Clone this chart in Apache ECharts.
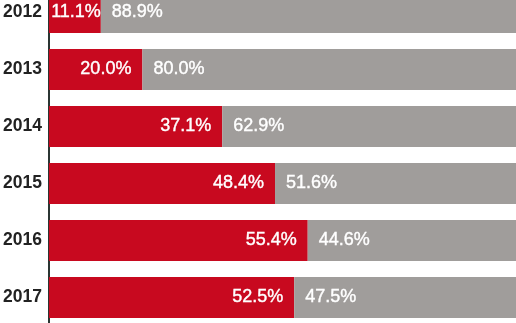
<!DOCTYPE html>
<html><head><meta charset="utf-8">
<script src="https://cdn.jsdelivr.net/npm/echarts@6/dist/echarts.min.js"></script>
<style>html,body{margin:0;padding:0;background:#fff}#c{width:516px;height:323px}</style>
</head><body><div id="c"></div>
<script>
const years = ['2012','2013','2014','2015','2016','2017'];
const redValues = [11.1, 20.0, 37.1, 48.4, 55.4, 52.5];
const grayValues = [88.9, 80.0, 62.9, 51.6, 44.6, 47.5];

const chart = echarts.init(document.getElementById('c'), null, {renderer:'canvas'});
const labelFont = {color:'#fff', fontSize:18, fontFamily:'Liberation Sans, Arial, sans-serif',
  textBorderColor:'#fff', textBorderWidth:0.4};
chart.setOption({
  animation:false,
  grid:{left:49, width:467, top:-16, height:342, outerBoundsMode:'none'},
  xAxis:{type:'value', min:0, max:100, show:false},
  yAxis:{type:'category', data:years, inverse:true,
    axisLine:{show:true, lineStyle:{color:'#2b3532', width:2}},
    axisTick:{show:false},
    axisLabel:{color:'#222', fontSize:17.5, fontWeight:'bold', fontFamily:'Liberation Sans, Arial, sans-serif', margin:7}
  },
  series:[
    {type:'bar', stack:'s', barWidth:41, itemStyle:{color:'#c8091f'},
     data: redValues.map((v,i)=>({value:v, label: i===0 ? {distance:0} : undefined})),
     label:{show:true, position:'insideRight', distance:11, ...labelFont, formatter:p=>p.value.toFixed(1)+'%'}},
    {type:'bar', stack:'s', barWidth:41, itemStyle:{color:'#a09d9b'},
     data: grayValues,
     label:{show:true, position:'insideLeft', distance:11, ...labelFont, formatter:p=>p.value.toFixed(1)+'%'}}
  ]
});
</script></body></html>
